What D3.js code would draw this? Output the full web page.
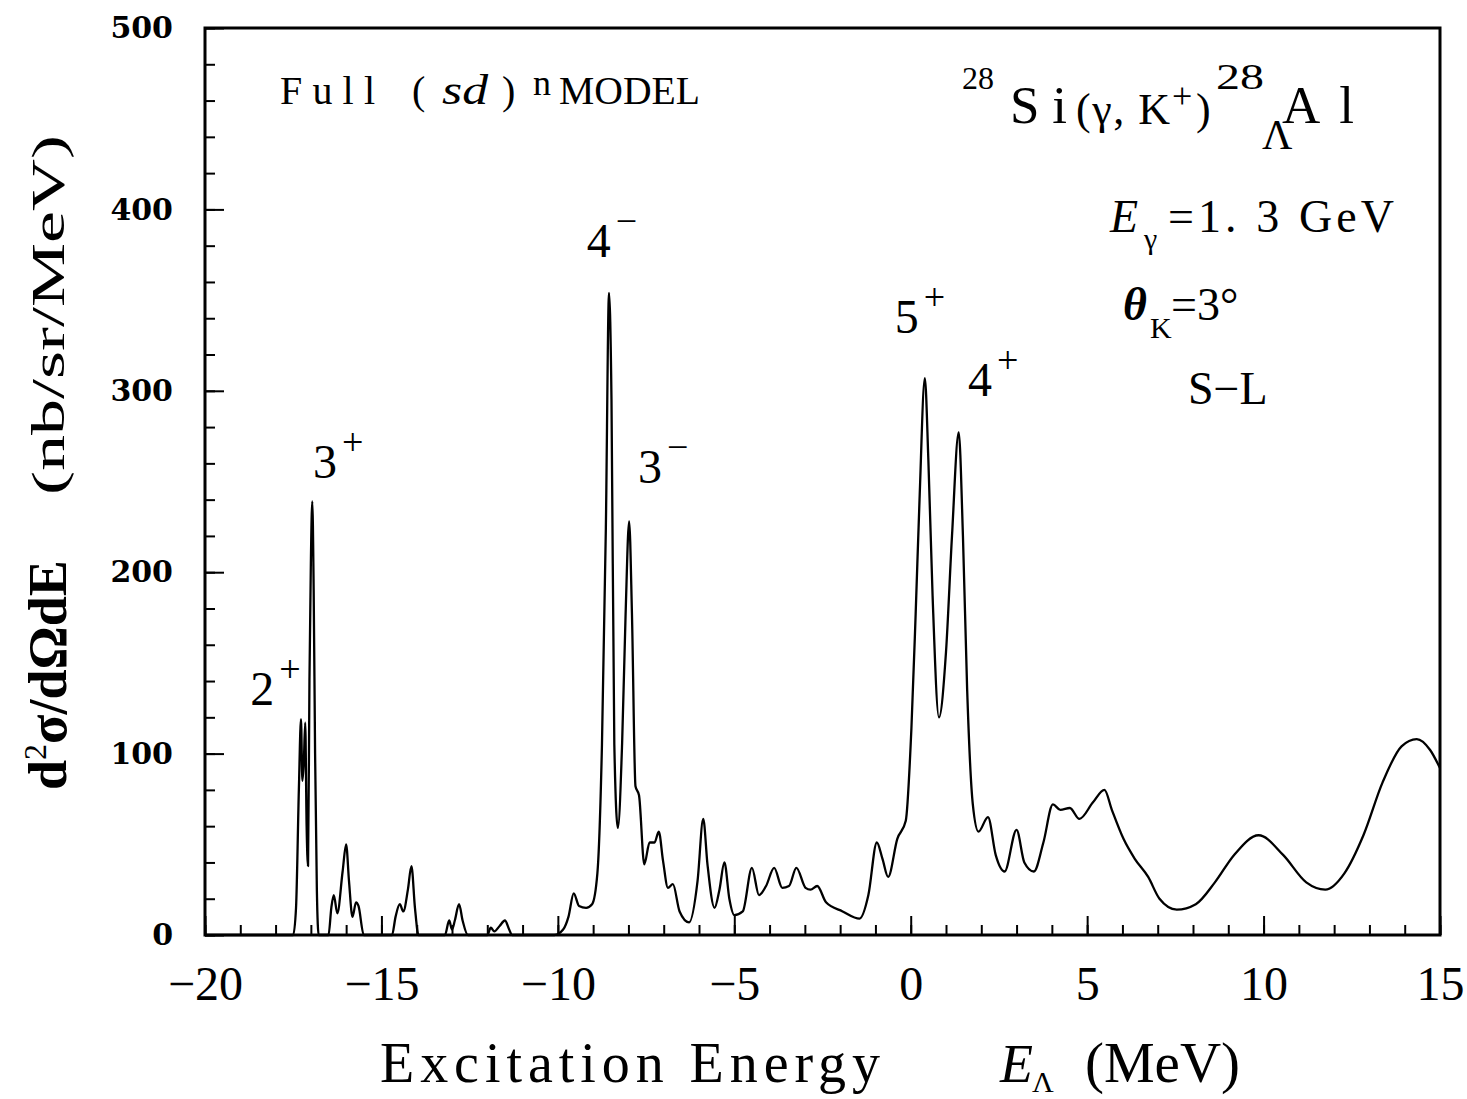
<!DOCTYPE html>
<html>
<head>
<meta charset="utf-8">
<script src="https://cdn.jsdelivr.net/npm/d3@7"></script>
<style>
  body { margin: 0; background: #fff; }
  text { fill: #000; }
</style>
</head>
<body>
<div id="container"></div>
<script>
const width = 1467,
  height = 1099,
  margin = { top: 28, bottom: 164, left: 205, right: 27 };

// excitation energy (MeV) and cross section (nb/sr/MeV)
const energy = [
  -20, -17.5, -17.42, -17.34, -17.28, -17.24, -17.2, -17.16, -17.12, -17.08,
  -17.04, -17.0, -16.96, -16.92, -16.88, -16.83, -16.78,
  -16.5, -16.42, -16.35, -16.25, -16.1, -16.0, -15.92, -15.82, -15.72, -15.65, -15.5,
  -14.7, -14.6, -14.48, -14.38, -14.25, -14.15, -14.05, -13.95,
  -13.2, -13.08, -13.0, -12.92, -12.8, -12.7, -12.55,
  -12.0, -11.9, -11.8, -11.65, -11.5, -11.38, -11.3,
  -10.1, -9.85, -9.7, -9.55, -9.4, -9.2, -9.03, -8.88, -8.75, -8.64,
  -8.55, -8.48, -8.4, -8.3, -8.18, -8.08, -7.98, -7.9, -7.8, -7.7,
  -7.55, -7.4, -7.26, -7.14, -7.02, -6.88, -6.74, -6.55, -6.28, -6.04,
  -5.88, -5.76, -5.56, -5.42, -5.28, -5.14, -5.0, -4.76, -4.5, -4.3,
  -4.1, -3.87, -3.64, -3.45, -3.24, -2.98, -2.84, -2.65, -2.4, -1.93,
  -1.45, -1.2, -0.96, -0.8, -0.64, -0.38, -0.14, 0.02, 0.14, 0.25,
  0.4, 0.5, 0.62, 0.8, 1.0, 1.17, 1.36, 1.48, 1.6, 1.76,
  1.92, 2.19, 2.41, 2.66, 3.0, 3.22, 3.49, 3.76, 4.03, 4.24,
  4.51, 4.78, 5.16, 5.49, 5.7, 6.03, 6.35, 6.73, 7.05, 7.54,
  8.08, 8.62, 9.16, 9.86, 10.56, 11.21, 11.75, 12.29, 12.83, 13.37,
  13.91, 14.34, 14.72, 15
];
const crossSection = [
  0, 0, 15, 80, 119, 85, 95, 117, 60, 38,
  140, 205, 239, 190, 100, 25, 0,
  0, 15, 22, 12, 35, 50, 30, 10, 18, 16, 0,
  0, 10, 17, 13, 25, 38, 15, 0,
  0, 8, 3, 8, 17, 8, 0,
  0, 4, 2, 5, 8, 3, 0,
  0, 3, 10, 23, 16, 15, 17, 34, 105, 224,
  354, 295, 105, 59, 105, 177, 228, 177, 82, 77,
  39, 51, 51, 57, 41, 26, 28, 13, 7, 30,
  64, 39, 15, 25, 40, 20, 11, 13, 37, 22,
  27, 37, 26, 27, 37, 26, 25, 27, 18, 13,
  9, 22, 51, 42, 32, 53, 63, 114, 177, 240,
  307, 262, 187, 120, 156, 220, 277, 220, 135, 72,
  57, 65, 44, 35, 58, 40, 35, 51, 72, 69,
  70, 64, 73, 80, 69, 53, 42, 32, 20, 14,
  17, 29, 44, 55, 44, 29, 25, 34, 55, 84,
  104, 108, 102, 92
];

const xTicks = [-20, -15, -10, -5, 0, 5, 10, 15];
const yTicks = [0, 100, 200, 300, 400, 500];

// state labels: [energy, value, spin, parity]
const stateLabels = [
  [-18.72, 127, "2", "+"],
  [-16.94, 252, "3", "+"],
  [-9.18, 374, "4", "−"],
  [-7.73, 249, "3", "−"],
  [-0.45, 332, "5", "+"],
  [1.62, 297, "4", "+"]
];

const data = energy.map((e, i) => ({ e: e, v: crossSection[i] }));

/* SCALES */
const xScale = d3.scaleLinear()
  .domain([-20, 15])
  .range([margin.left, width - margin.right]);

const yScale = d3.scaleLinear()
  .domain([0, 500])
  .range([height - margin.bottom, margin.top]);

const svg = d3.select("#container")
  .append("svg")
  .attr("width", width)
  .attr("height", height)
  .attr("font-family", "'Liberation Serif', serif");

/* AXES */
// minor ticks
svg.append("g")
  .attr("transform", `translate(0, ${height - margin.bottom})`)
  .call(d3.axisBottom(xScale).tickValues(d3.range(-20, 16, 1)).tickSize(-10).tickFormat(""))
  .call(g => g.select(".domain").remove())
  .call(g => g.selectAll("line").attr("stroke-width", 2));

svg.append("g")
  .attr("transform", `translate(${margin.left}, 0)`)
  .call(d3.axisLeft(yScale).tickValues(d3.range(0, 501, 20)).tickSize(-10).tickFormat(""))
  .call(g => g.select(".domain").remove())
  .call(g => g.selectAll("line").attr("stroke-width", 2));

// major ticks + labels
svg.append("g")
  .attr("transform", `translate(0, ${height - margin.bottom})`)
  .call(d3.axisBottom(xScale).tickValues(xTicks).tickSize(-19).tickPadding(31))
  .call(g => g.select(".domain").remove())
  .call(g => g.selectAll("line").attr("stroke-width", 2))
  .call(g => g.selectAll("text")
    .attr("font-family", "'Liberation Serif', serif")
    .attr("font-size", 48)
    .attr("fill", "#000"));

svg.append("g")
  .attr("transform", `translate(${margin.left}, 0)`)
  .call(d3.axisLeft(yScale).tickValues(yTicks).tickSize(-19).tickPadding(32))
  .call(g => g.select(".domain").remove())
  .call(g => g.selectAll("line").attr("stroke-width", 2))
  .call(g => g.selectAll("text")
    .attr("font-family", "'DejaVu Serif', serif")
    .attr("font-weight", "bold")
    .attr("font-size", 30)
    .attr("fill", "#000"));

// frame
svg.append("rect")
  .attr("x", xScale(-20))
  .attr("y", yScale(500))
  .attr("width", xScale(15) - xScale(-20))
  .attr("height", yScale(0) - yScale(500))
  .attr("fill", "none")
  .attr("stroke", "#000")
  .attr("stroke-width", 3);

/* CURVE */
const line = d3.line()
  .x(d => xScale(d.e))
  .y(d => yScale(d.v))
  .curve(d3.curveMonotoneX);

svg.append("path")
  .datum(data)
  .attr("d", line)
  .attr("fill", "none")
  .attr("stroke", "#000")
  .attr("stroke-width", 2.3)
  .attr("stroke-linejoin", "round");

/* STATE LABELS */
stateLabels.forEach(([e, v, spin, par]) => {
  const t = svg.append("text")
    .attr("x", xScale(e))
    .attr("y", yScale(v))
    .attr("font-size", 48);
  t.append("tspan").text(spin);
  t.append("tspan")
    .attr("dx", 5)
    .attr("dy", -23)
    .attr("font-size", 38)
    .text(par);
});

/* ANNOTATIONS */
const txt = (x, y, size, s) => svg.append("text")
  .attr("x", x).attr("y", y).attr("font-size", size).text(s);

// model label
txt(280, 104, 40, "Full").attr("textLength", 95).attr("lengthAdjust", "spacing");
txt(412, 104, 40, "(");
txt(442, 104, 42, "sd").attr("font-style", "italic")
  .attr("textLength", 46).attr("lengthAdjust", "spacingAndGlyphs");
txt(502, 104, 40, ")");
txt(533, 95, 36, "n");
txt(559, 104, 40, "MODEL").attr("textLength", 141).attr("lengthAdjust", "spacingAndGlyphs");

// reaction title
txt(962, 89, 32, "28");
txt(1010, 123, 53, "Si").attr("textLength", 57).attr("lengthAdjust", "spacing");
txt(1076, 124, 44, "(γ, K").attr("textLength", 94).attr("lengthAdjust", "spacing");
txt(1172, 108, 36, "+");
txt(1196, 124, 44, ")");
txt(1216, 89, 36, "28").attr("textLength", 48).attr("lengthAdjust", "spacingAndGlyphs");
txt(1262, 149, 42, "Λ");
txt(1282, 123, 53, "Al").attr("textLength", 72).attr("lengthAdjust", "spacing");

// beam energy
txt(1110, 232, 46, "E").attr("font-style", "italic");
txt(1144, 249, 30, "γ");
txt(1168, 232, 46, "=1. 3  GeV").attr("textLength", 226).attr("lengthAdjust", "spacing");

// kaon angle
txt(1123, 320, 46, "θ").attr("font-style", "italic").attr("font-weight", "bold");
txt(1150, 338, 30, "K");
txt(1171, 320, 46, "=3°");

txt(1188, 404, 46, "S−L");

/* AXIS TITLES */
txt(380, 1082, 56, "Excitation Energy").attr("textLength", 500).attr("lengthAdjust", "spacing");
txt(1000, 1082, 54, "E").attr("font-style", "italic");
txt(1032, 1092, 30, "Λ");
txt(1085, 1082, 56, "(MeV)").attr("textLength", 155).attr("lengthAdjust", "spacingAndGlyphs");

const yt1 = svg.append("text")
  .attr("transform", "translate(66, 790) rotate(-90)")
  .attr("font-size", 54)
  .attr("font-weight", "bold");
yt1.append("tspan").text("d");
yt1.append("tspan").attr("dy", -20).attr("font-size", 32).attr("font-weight", "normal").text("2");
yt1.append("tspan").attr("dy", 20).text("σ/dΩdE");

svg.append("text")
  .attr("transform", "translate(64, 495) rotate(-90)")
  .attr("font-size", 46)
  .attr("textLength", 360)
  .attr("lengthAdjust", "spacingAndGlyphs")
  .text("(nb/sr/MeV)");
</script>
</body>
</html>
